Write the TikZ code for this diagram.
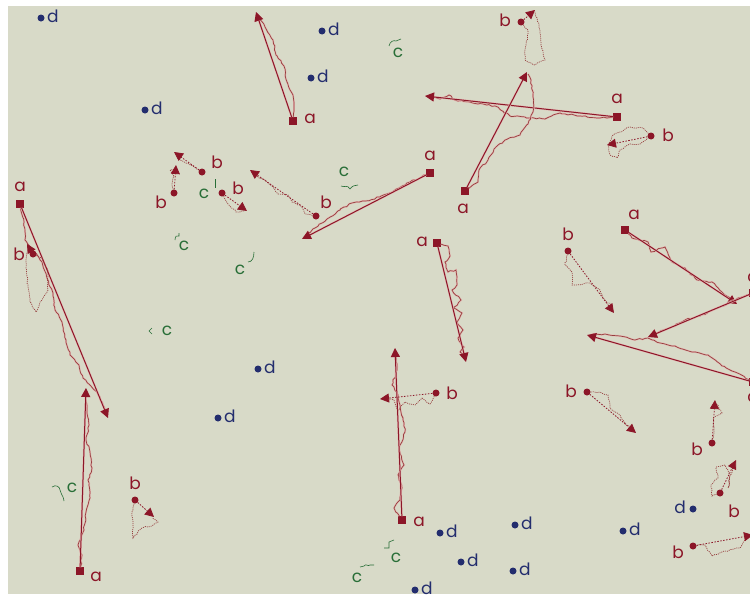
\documentclass[tikz,border=0pt]{standalone}
\usepackage{fontspec}
\setmainfont{Poppins}
\usetikzlibrary{arrows.meta,decorations.pathmorphing}
\definecolor{bgc}{RGB}{216,218,200}
\definecolor{ared}{RGB}{140,22,40}
\definecolor{wred}{RGB}{150,62,62}
\definecolor{halo}{RGB}{228,185,180}
\definecolor{dblue}{RGB}{35,45,110}
\definecolor{dgreen}{RGB}{40,110,55}
\begin{document}
\pgfmathsetseed{11}
\begin{tikzpicture}[x=1pt,y=-1pt,
  asq/.style={fill=ared,rectangle,minimum size=7.5pt,inner sep=0pt},
  bdot/.style={fill=ared,circle,minimum size=7pt,inner sep=0pt},
  ddot/.style={fill=dblue,circle,minimum size=7pt,inner sep=0pt},
  lbl/.style={font=\fontsize{17}{17}\selectfont,inner sep=0pt},
  albl/.style={lbl,text=ared},
  dlbl/.style={lbl,text=dblue},
  clbl/.style={lbl,text=dgreen},
  mva/.style={draw=ared,line width=1pt,preaction={draw=halo,line width=2pt},-{Triangle[length=9pt,width=9pt]}},
  mvb/.style={draw=ared,line width=0.8pt,dash pattern=on 1.5pt off 1.5pt,-{Triangle[length=9pt,width=9pt]}},
  wa/.style={draw=wred,line width=0.7pt,preaction={draw=halo,line width=1.8pt},decorate,decoration={random steps,segment length=3pt,amplitude=0.8pt}},
  wb/.style={draw=wred,line width=0.7pt,dash pattern=on 1pt off 1pt,decorate,decoration={random steps,segment length=3pt,amplitude=0.8pt}},
  cw/.style={draw=dgreen,line width=0.6pt}]
\useasboundingbox (0,0) rectangle (750,597);
\fill[white] (0,0) rectangle (750,597);
\fill[bgc] (8,6) rectangle (750,594);
\clip (8,6) rectangle (750,594);

% ---------- d points ----------
\foreach \x/\y [count=\i] in {41/18,322/31,311/78,145/110,258/369,218/418,440/533,461/562,415/590,515/525,513/571,623/531}{
  \node[ddot] (d\i) at (\x,\y) {};
  \node[dlbl,anchor=west] (dl\i) at (\x+6,\y-2) {d};
}
\node[ddot] (d13) at (693,509) {};
\node[dlbl,anchor=east] (dl13) at (686,507) {d};

% ---------- c labels with small trails ----------
\node[clbl] (c1) at (398,53) {c};
\draw[cw] (389,46) .. controls (390,41) and (394,40) .. (396,41) -- (401,39);
\node[clbl] (c2) at (344,172) {c};
\draw[cw] (341,186) .. controls (345,188) and (347,184) .. (350,189) .. controls (352,186) and (355,185) .. (358,185);
\node[clbl] (c3) at (204,194) {c};
\draw[cw] (215,179) -- (215,188);
\node[clbl] (c4) at (184,246) {c};
\draw[cw] (175,240) .. controls (175,236) and (177,235) .. (179,236) -- (179,233);
\node[clbl] (c5) at (240,270) {c};
\draw[cw] (248,262) .. controls (252,262) and (254,258) .. (254,252);
\node[clbl] (c6) at (167,331) {c};
\draw[cw] (152,328) -- (149,331) -- (152,334);
\node[clbl] (c7) at (72,488) {c};
\draw[cw] (52,487) .. controls (56,484) and (60,487) .. (60,490) .. controls (60,494) and (63,494) .. (64,501);
\node[clbl] (c8) at (396,558) {c};
\draw[cw] (384,548) -- (389,548) -- (389,542) -- (394,540);
\node[clbl] (c9) at (357,578) {c};
\draw[cw] (360,567) -- (364,566) .. controls (366,563) and (368,567) .. (370,565) -- (374,565);

% ---------- a agents (solid) ----------
% A1
\node[asq] (A1) at (293,121) {};
\node[albl] (A1l) at (310,119) {a};
\coordinate (A1e) at (256,12);
\draw[wa] (A1) -- (294,108) -- (293,95) -- (287,82) -- (284,66) -- (276,55) -- (273,40) -- (265,27) -- (257,14);
\draw[mva] (A1) -- (A1e);
% A2
\node[asq] (A2) at (617,117) {};
\node[albl] (A2l) at (617,99) {a};
\coordinate (A2e) at (425,96);
\draw[wa] (A2) -- (600,118) -- (580,116) -- (560,113) -- (545,119) -- (530,118) -- (510,116) -- (495,106) -- (478,104) -- (470,102) -- (455,100) -- (449,95) -- (440,99) -- (427,96);
\draw[mva] (A2) -- (A2e);
% A3
\node[asq] (A3) at (465,191) {};
\node[albl] (A3l) at (463,209) {a};
\coordinate (A3e) at (527,72);
\draw[wa] (A3) -- (478,182) -- (479,170) -- (488,160) -- (495,148) -- (505,140) -- (520,135) -- (528,124) -- (533,112) -- (533,95) -- (531,80) -- (528,74);
\draw[mva] (A3) -- (A3e);
% A6
\node[asq] (A6) at (430,173) {};
\node[albl] (A6l) at (430,156) {a};
\coordinate (A6e) at (302,239);
\draw[wa] (A6) -- (410,182) -- (395,190) -- (380,197) -- (365,201) -- (352,203) -- (340,210) -- (327,219) -- (315,228) -- (304,237);
\draw[mva] (A6) -- (A6e);
% A11
\node[asq] (A11) at (20,204) {};
\node[albl] (A11l) at (20,187) {a};
\coordinate (A11e) at (108,418);
\draw[wa] (A11) -- (24,222) -- (25,240) -- (33,250) -- (42,262) -- (47,278) -- (53,293) -- (55,310) -- (62,322) -- (66,340) -- (70,355) -- (79,365) -- (83,378) -- (90,385) -- (97,392) -- (103,405) -- (107,415);
\draw[mva] (A11) -- (A11e);
% A13
\node[asq] (A13) at (80,571) {};
\node[albl] (A13l) at (96,577) {a};
\coordinate (A13e) at (86,388);
\draw[wa] (A13) -- (82,555) -- (78,545) -- (84,530) -- (86,512) -- (90,498) -- (88,480) -- (92,468) -- (90,452) -- (86,440) -- (89,425) -- (87,410) -- (86,395);
\draw[mva] (A13) -- (A13e);
% A17
\node[asq] (A17) at (437,243) {};
\node[albl] (A17l) at (422,242) {a};
\coordinate (A17e) at (466,362);
\draw[wa] (A17) -- (448,246) -- (450,256) -- (445,262) -- (448,272) -- (456,270) -- (457,285) -- (452,290) -- (461,300) -- (454,308) -- (462,313) -- (457,322) -- (463,330) -- (458,338) -- (464,347) -- (460,352) -- (466,359);
\draw[mva] (A17) -- (A17e);
% A18
\node[asq] (A18) at (402,520) {};
\node[albl] (A18l) at (419,522) {a};
\coordinate (A18e) at (395,348);
\draw[wa] (A18) -- (394,508) -- (400,500) -- (402,488) -- (398,475) -- (404,465) -- (399,448) -- (405,432) -- (403,418) -- (400,405) -- (398,395) -- (392,385) -- (397,370) -- (395,352);
\draw[mva] (A18) -- (A18e);
% A20
\node[asq] (A20) at (625,230) {};
\node[albl] (A20l) at (634,215) {a};
\coordinate (A20e) at (737,304);
\draw[wa] (A20) -- (632,238) -- (648,242) -- (651,252) -- (665,247) -- (672,262) -- (685,268) -- (697,280) -- (712,282) -- (725,295) -- (736,302);
\draw[mva] (A20) -- (A20e);
% A21
\node[asq] (A21) at (753,293) {};
\node[albl] (A21l) at (753,278) {a};
\coordinate (A21e) at (648,337);
\draw[wa] (A21) -- (735,300) -- (715,309) -- (700,316) -- (685,320) -- (670,328) -- (652,335);
\draw[mva] (A21) -- (A21e);
% A22
\node[asq] (A22) at (753,382) {};
\node[albl] (A22l) at (753,398) {a};
\coordinate (A22e) at (587,335);
\draw[wa] (A22) -- (735,372) -- (722,366) -- (708,355) -- (692,352) -- (675,346) -- (660,343) -- (648,338) -- (635,340) -- (620,336) -- (605,334) -- (590,335);
\draw[mva] (A22) -- (A22e);

% ---------- b agents (dotted) ----------
% B4
\node[bdot] (B4) at (521,22) {};
\node[albl] (B4l) at (505,20) {b};
\coordinate (B4e) at (535,10);
\draw[wb] (B4) -- (528,30) -- (526,45) -- (525,60) -- (535,65) -- (545,60) -- (541,45) -- (540,30) -- (537,18) -- (535,12);
\draw[mvb] (B4) -- (B4e);
% B5
\node[bdot] (B5) at (651,136) {};
\node[albl] (B5l) at (668,135) {b};
\coordinate (B5e) at (607,145);
\draw[wb] (B5) -- (643,128) -- (630,127) -- (620,132) -- (612,136) -- (608,145) -- (610,155) -- (617,158) -- (620,150) -- (630,144) -- (640,144) -- (648,138);
\draw[mvb] (B5) -- (B5e);
% B7
\node[bdot] (B7) at (316,216) {};
\node[albl] (B7l) at (326,202) {b};
\coordinate (B7e) at (250,170);
\draw[wb] (B7) -- (305,214) -- (300,205) -- (292,202) -- (288,195) -- (278,194) -- (272,186) -- (265,180) -- (258,177) -- (252,172);
\draw[mvb] (B7) -- (B7e);
% B8
\node[bdot] (B8) at (202,172) {};
\node[albl] (B8l) at (217,162) {b};
\coordinate (B8e) at (174,152);
\draw[wb] (B8) -- (193,166) -- (186,163) -- (180,160) -- (176,154);
\draw[mvb] (B8) -- (B8e);
% B8b
\node[bdot] (B8b) at (174,193) {};
\node[albl] (B8bl) at (161,202) {b};
\coordinate (B8be) at (176,165);
\draw[wb] (B8b) -- (172,184) -- (174,176) -- (170,170) -- (176,168);
\draw[mvb] (B8b) -- (B8be);
% B9
\node[bdot] (B9) at (222,193) {};
\node[albl] (B9l) at (238,188) {b};
\coordinate (B9e) at (247,211);
\draw[wb] (B9) -- (228,204) -- (236,212) -- (244,211);
\draw[mvb] (B9) -- (B9e);
% B12
\node[bdot] (B12) at (33,254) {};
\node[albl] (B12l) at (19,254) {b};
\coordinate (B12e) at (27,244);
\draw[wb] (B12) -- (42,258) -- (48,270) -- (48,290) -- (40,302) -- (36,312) -- (30,302) -- (28,285) -- (26,268) -- (27,252);
\draw[mvb] (B12) -- (B12e);
% B15
\node[bdot] (B15) at (135,500) {};
\node[albl] (B15l) at (135,483) {b};
\coordinate (B15e) at (154,517);
\draw[wb] (B15) -- (132,512) -- (133,525) -- (133,538) -- (142,528) -- (152,526) -- (158,522) -- (152,518);
\draw[mvb] (B15) -- (B15e);
% B19
\node[bdot] (B19) at (436,393) {};
\node[albl] (B19l) at (452,393) {b};
\coordinate (B19e) at (380,399);
\draw[wb] (B19) -- (430,404) -- (422,398) -- (415,405) -- (405,402) -- (398,410) -- (394,400) -- (384,399);
\draw[mvb] (B19) -- (B19e);
% B23
\node[bdot] (B23) at (568,251) {};
\node[albl] (B23l) at (568,234) {b};
\coordinate (B23e) at (614,313);
\draw[wb] (B23) -- (565,265) -- (572,272) -- (572,285) -- (590,283) -- (600,290) -- (605,300) -- (612,306);
\draw[mvb] (B23) -- (B23e);
% B24
\node[bdot] (B24) at (587,392) {};
\node[albl] (B24l) at (571,391) {b};
\coordinate (B24e) at (636,433);
\draw[wb] (B24) -- (600,392) -- (608,395) -- (610,408) -- (620,415) -- (626,425) -- (632,428);
\draw[mvb] (B24) -- (B24e);
% B25
\node[bdot] (B25) at (712,443) {};
\node[albl] (B25l) at (697,449) {b};
\coordinate (B25e) at (715,400);
\draw[wb] (B25) -- (714,430) -- (713,418) -- (722,413) -- (718,405) -- (716,404);
\draw[mvb] (B25) -- (B25e);
% B26
\node[bdot] (B26) at (720,493) {};
\node[albl] (B26l) at (734,511) {b};
\coordinate (B26e) at (736,460);
\draw[wb] (B26) -- (712,496) -- (711,485) -- (718,478) -- (716,467) -- (725,465) -- (730,475) -- (728,488) -- (733,465);
\draw[mvb] (B26) -- (B26e);
% B27
\node[bdot] (B27) at (693,546) {};
\node[albl] (B27l) at (678,552) {b};
\coordinate (B27e) at (753,535);
\draw[wb] (B27) -- (705,545) -- (712,556) -- (722,552) -- (740,548) -- (745,540) -- (750,536);
\draw[mvb] (B27) -- (B27e);
\end{tikzpicture}
\end{document}
